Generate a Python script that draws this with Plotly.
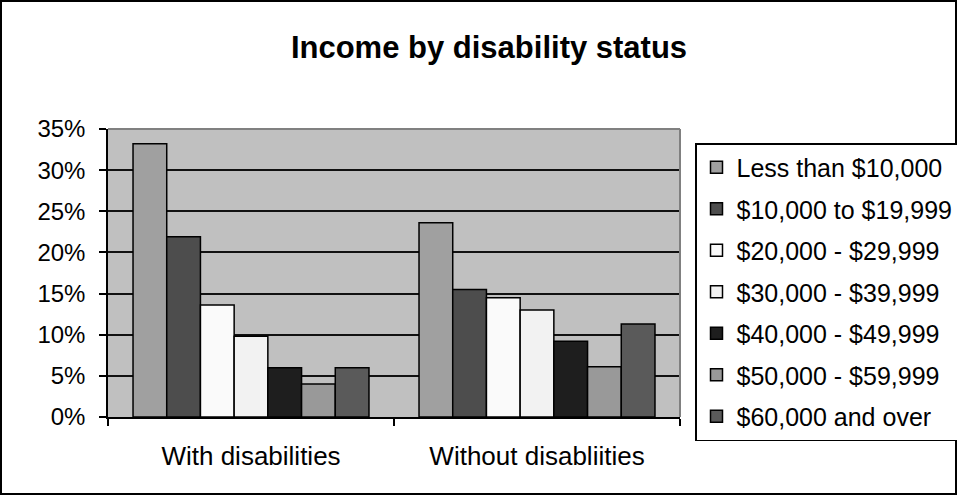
import plotly.graph_objects as go

categories = ["With disabilities", "Without disabliities"]
series_names = ["Less than $10,000", "$10,000 to $19,999", "$20,000 - $29,999",
                "$30,000 - $39,999", "$40,000 - $49,999", "$50,000 - $59,999",
                "$60,000 and over"]
with_disabilities = [33.2, 21.9, 13.6, 9.8, 6.0, 4.0, 6.0]
without_disabilities = [23.6, 15.5, 14.5, 13.0, 9.2, 6.1, 11.3]
series_colors = ["#A0A0A0", "#4D4D4D", "#FAFAFA", "#F2F2F2", "#1E1E1E", "#999999", "#5A5A5A"]
y_ticks = [0, 5, 10, 15, 20, 25, 30, 35]

W, H = 957, 495
L, R, T, B = 108, 277, 129, 78

fig = go.Figure()
for i, name in enumerate(series_names):
    fig.add_trace(go.Bar(
        x=categories, y=[with_disabilities[i], without_disabilities[i]], name=name,
        marker=dict(color=series_colors[i], line=dict(color="black", width=1.5)),
        legendgroup=str(i),
    ))

pw = W - L - R
ph = H - T - B
fig.update_layout(
    width=W, height=H,
    margin=dict(l=L, r=R, t=T, b=B, autoexpand=False),
    paper_bgcolor="white", plot_bgcolor="#C0C0C0",
    barmode="group", bargap=0.175, bargroupgap=0,
    font=dict(family="Liberation Sans, Arial", color="black", size=24),
    title=dict(text="<b>Income by disability status</b>", x=489 / W, xanchor="center",
               y=1 - 47 / H, yanchor="middle", font=dict(size=31)),
    legend=dict(x=(695 - L) / pw, xanchor="left", y=(H - B - 143) / ph, yanchor="top",
                bordercolor="black", borderwidth=1.5, bgcolor="white",
                font=dict(size=25), tracegroupgap=6, traceorder="grouped",
                itemwidth=30, maxheight=420),
    xaxis=dict(showline=True, linecolor="black", linewidth=1.5, ticks="outside",
               tickson="boundaries", ticklen=7, tickcolor="black", tickwidth=1.5,
               showgrid=False, tickfont=dict(size=26), ticklabelstandoff=15),
    yaxis=dict(range=[0, 35], tickvals=y_ticks, ticktext=[f"{v}%" for v in y_ticks],
               showline=True, linecolor="black", linewidth=1.5, ticks="outside",
               ticklen=7, tickcolor="black", tickwidth=1.5, showgrid=True,
               gridcolor="#111111", gridwidth=2, zeroline=False, tickfont=dict(size=24),
               ticklabelstandoff=9),
)
# plot area top/right gray border
fig.add_shape(type="line", xref="paper", yref="paper", x0=0, x1=1, y0=1, y1=1,
              line=dict(color="#808080", width=2))
fig.add_shape(type="line", xref="paper", yref="paper", x0=1, x1=1, y0=0, y1=1,
              line=dict(color="#808080", width=2))
# outer chart border
fig.add_shape(type="rect", xref="paper", yref="paper",
              x0=-(L - 1) / pw, x1=1 + (R - 1) / pw, y0=-(B - 1) / ph, y1=1 + (T - 1) / ph,
              line=dict(color="black", width=2))

fig.write_html("out.html", config={"displayModeBar": False},
               post_script="document.body.style.margin='0';")
